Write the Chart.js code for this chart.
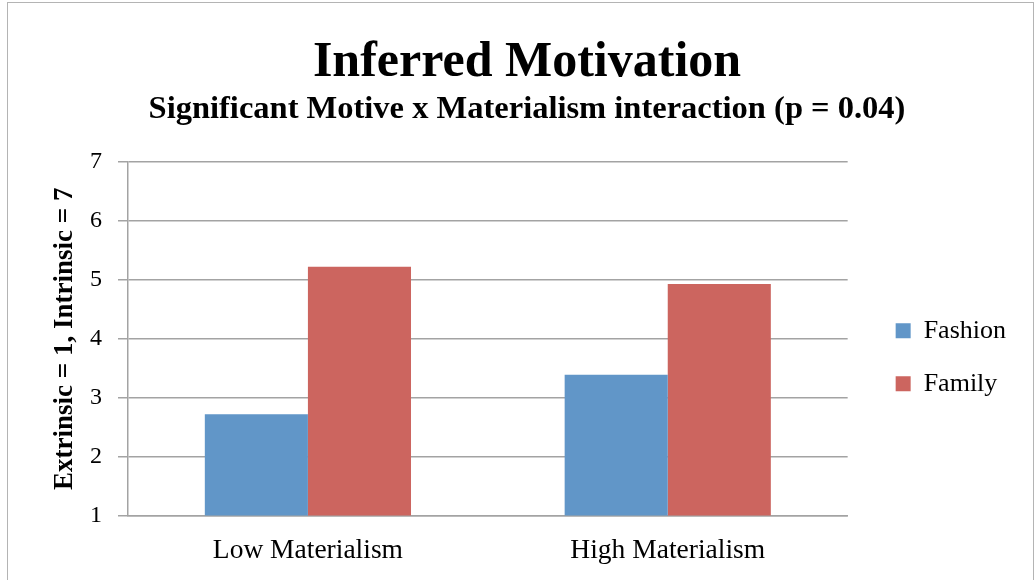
<!DOCTYPE html>
<html>
<head>
<meta charset="utf-8">
<script src="https://cdn.jsdelivr.net/npm/chart.js@4"></script>
<style>
  body { margin: 0; background: #fff; }
  #frame {
    position: absolute; left: 7px; top: 2px; width: 1025px; height: 600px;
    border: 1.5px solid #b4b4b4;
  }
  #chart { position: absolute; left: 0; top: 0; }
</style>
</head>
<body>
<div id="frame"></div>
<canvas id="chart" width="1035" height="580"></canvas>
<script>
const categories = ['Low Materialism', 'High Materialism'];
const fashion = [2.72, 3.39];
const family = [5.22, 4.93];
const yTicks = [1, 2, 3, 4, 5, 6, 7];

const serif = '"Liberation Serif", "Times New Roman", serif';
const gridColor = '#a3a3a3';

new Chart(document.getElementById('chart'), {
    type: 'bar',
    data: {
        labels: categories,
        datasets: [
            { label: 'Fashion', data: fashion, backgroundColor: '#6196c8', yAxisID: 'y' },
            { label: 'Family', data: family, backgroundColor: '#cc655f', yAxisID: 'y' }
        ]
    },
    options: {
        responsive: false,
        animation: false,
        layout: { padding: { left: 38, right: 19, top: 0, bottom: 0 } },
        datasets: { bar: { categoryPercentage: 0.573, barPercentage: 1 } },
        scales: {
            x: {
                grid: { display: false, drawTicks: false },
                border: { display: true, color: gridColor, width: 1.5 },
                ticks: { color: '#000', padding: 19, font: { family: serif, size: 27.5 } },
                afterFit: s => { s.height = 64.5; }
            },
            y: {
                min: 1, max: 7,
                afterBuildTicks: s => { s.ticks = yTicks.map(v => ({ value: v })); },
                grid: { color: gridColor, lineWidth: 1.5, tickLength: 10 },
                border: { display: true, color: gridColor, width: 1.5 },
                ticks: { color: '#000', padding: 16, font: { family: serif, size: 24 } },
                title: {
                    display: true, text: 'Extrinsic = 1, Intrinsic = 7', color: '#000',
                    padding: { top: 13.5, bottom: 0 },
                    font: { family: serif, size: 27, weight: 'bold', lineHeight: 1 }
                },
                afterFit: s => { s.width = 90; }
            },
            gap: {
                position: 'right',
                grid: { display: false },
                border: { display: false },
                ticks: { display: false },
                afterFit: s => { s.width = 21; }
            }
        },
        plugins: {
            title: {
                display: true, text: 'Inferred Motivation', color: '#000',
                padding: { top: 38, bottom: 0 },
                font: { family: serif, size: 50, weight: 'bold', lineHeight: 1 }
            },
            subtitle: {
                display: true, text: 'Significant Motive x Materialism interaction (p = 0.04)', color: '#000',
                padding: { top: 5, bottom: 36.5 },
                font: { family: serif, size: 32.5, weight: 'bold', lineHeight: 1 }
            },
            legend: {
                position: 'right',
                fullSize: false,
                title: { display: true, text: ' ', padding: { top: 27, bottom: 0 }, font: { size: 10, lineHeight: 1 } },
                labels: {
                    color: '#000', boxWidth: 15, boxHeight: 15, padding: 27,
                    font: { family: serif, size: 26 }
                }
            },
            tooltip: { enabled: false }
        }
    }
});
</script>
</body>
</html>
